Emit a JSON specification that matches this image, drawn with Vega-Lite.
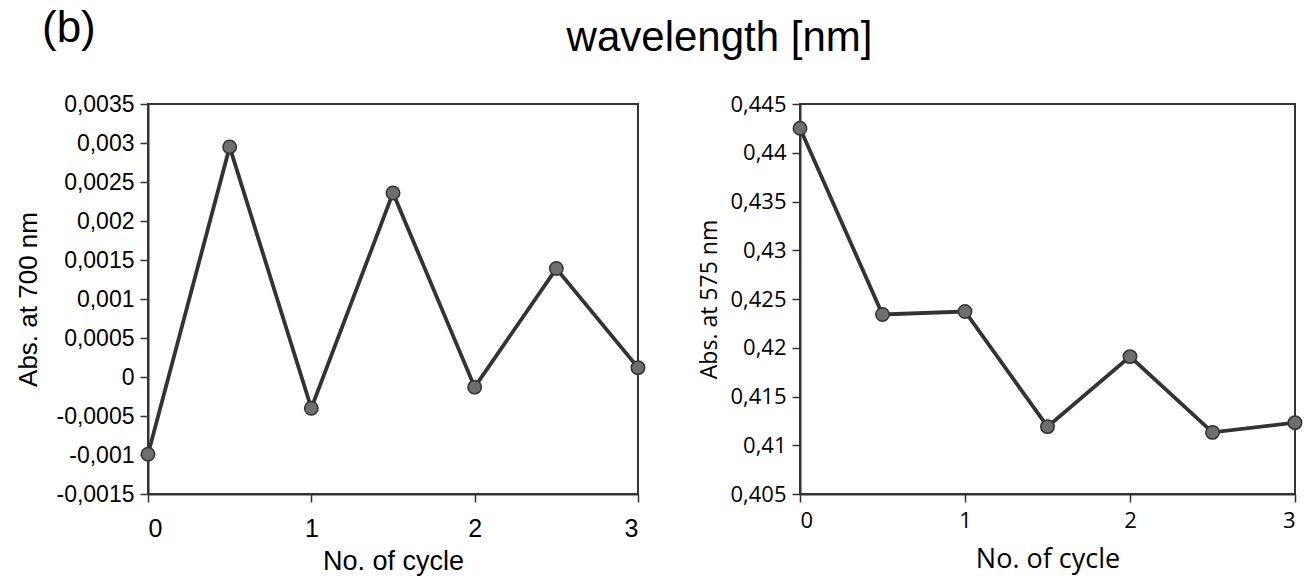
{
  "$schema": "https://vega.github.io/schema/vega-lite/v6.json",
  "padding": {"left": 14, "top": 6, "right": 2, "bottom": 2},
  "background": "white",
  "bounds": "flush",
  "spacing": 162,
  "config": {
    "view": {"stroke": "#333333", "strokeWidth": 2},
    "axis": {
      "grid": false,
      "domainColor": "#333333",
      "domainWidth": 2,
      "tickColor": "#333333",
      "tickWidth": 1.5,
      "tickSize": 8,
      "labelColor": "black",
      "titleColor": "black",
      "titleFontWeight": "normal"
    }
  },
  "datasets": {
    "a700": [
      {"cycle": 0, "abs": -0.00099},
      {"cycle": 0.5, "abs": 0.00295},
      {"cycle": 1, "abs": -0.0004},
      {"cycle": 1.5, "abs": 0.00236},
      {"cycle": 2, "abs": -0.00013},
      {"cycle": 2.5, "abs": 0.00139},
      {"cycle": 3, "abs": 0.00012}
    ],
    "a575": [
      {"cycle": 0, "abs": 0.44251},
      {"cycle": 0.5, "abs": 0.42341},
      {"cycle": 1, "abs": 0.42372},
      {"cycle": 1.5, "abs": 0.41191},
      {"cycle": 2, "abs": 0.41909},
      {"cycle": 2.5, "abs": 0.41132},
      {"cycle": 3, "abs": 0.41232}
    ]
  },
  "hconcat": [
    {
      "width": 490,
      "height": 390,
      "title": {"text": "(b)", "anchor": "start", "frame": "group", "dx": -106, "fontSize": 44, "font": "Liberation Sans", "fontWeight": "normal", "color": "black", "baseline": "alphabetic", "offset": 7},
      "data": {"name": "a700"},
      "encoding": {
        "x": {"field": "cycle", "type": "quantitative", "scale": {"domain": [0, 3], "nice": false, "zero": false},
          "axis": {"values": [0, 1, 2, 3], "title": "No. of cycle", "labelFont": "Liberation Sans", "labelFontSize": 25, "labelPadding": 14, "titleFont": "Liberation Sans", "titleFontSize": 27, "titlePadding": 7}},
        "y": {"field": "abs", "type": "quantitative", "scale": {"domain": [-0.0015, 0.0035], "nice": false, "zero": false},
          "axis": {"values": [-0.0015, -0.001, -0.0005, 0, 0.0005, 0.001, 0.0015, 0.002, 0.0025, 0.003, 0.0035], "labelExpr": "replace(toString(datum.value), '.', ',')", "title": "Abs. at 700 nm", "labelFont": "Liberation Sans", "labelFontSize": 23, "labelPadding": 6, "titleFont": "Liberation Sans", "titleFontSize": 26, "titlePadding": 14}}
      },
      "layer": [
        {"mark": {"type": "line", "color": "#333333", "strokeWidth": 3.8}},
        {"mark": {"type": "point", "filled": true, "fill": "#6e6e6e", "stroke": "#333333", "strokeWidth": 1.5, "size": 180, "opacity": 1}}
      ]
    },
    {
      "width": 495,
      "height": 390,
      "title": {"text": "wavelength [nm]", "anchor": "middle", "frame": "group", "dx": -328, "fontSize": 42, "font": "Liberation Sans", "fontWeight": "normal", "color": "black", "baseline": "alphabetic", "offset": 0},
      "data": {"name": "a575"},
      "encoding": {
        "x": {"field": "cycle", "type": "quantitative", "scale": {"domain": [0, 3], "nice": false, "zero": false},
          "axis": {"values": [0, 1, 2, 3], "title": "No. of cycle", "labelFont": "Open Sans", "labelFontSize": 22, "labelPadding": 8, "titleFont": "Open Sans", "titleFontSize": 27, "titlePadding": 15}},
        "y": {"field": "abs", "type": "quantitative", "scale": {"domain": [0.405, 0.445], "nice": false, "zero": false},
          "axis": {"values": [0.405, 0.41, 0.415, 0.42, 0.425, 0.43, 0.435, 0.44, 0.445], "labelExpr": "replace(toString(datum.value), '.', ',')", "title": "Abs. at 575 nm", "labelFont": "Open Sans", "labelFontSize": 22, "labelPadding": 6, "titleFont": "Open Sans", "titleFontSize": 23, "titlePadding": 8}}
      },
      "layer": [
        {"mark": {"type": "line", "color": "#333333", "strokeWidth": 3.8}},
        {"mark": {"type": "point", "filled": true, "fill": "#6e6e6e", "stroke": "#333333", "strokeWidth": 1.5, "size": 180, "opacity": 1}}
      ]
    }
  ]
}
